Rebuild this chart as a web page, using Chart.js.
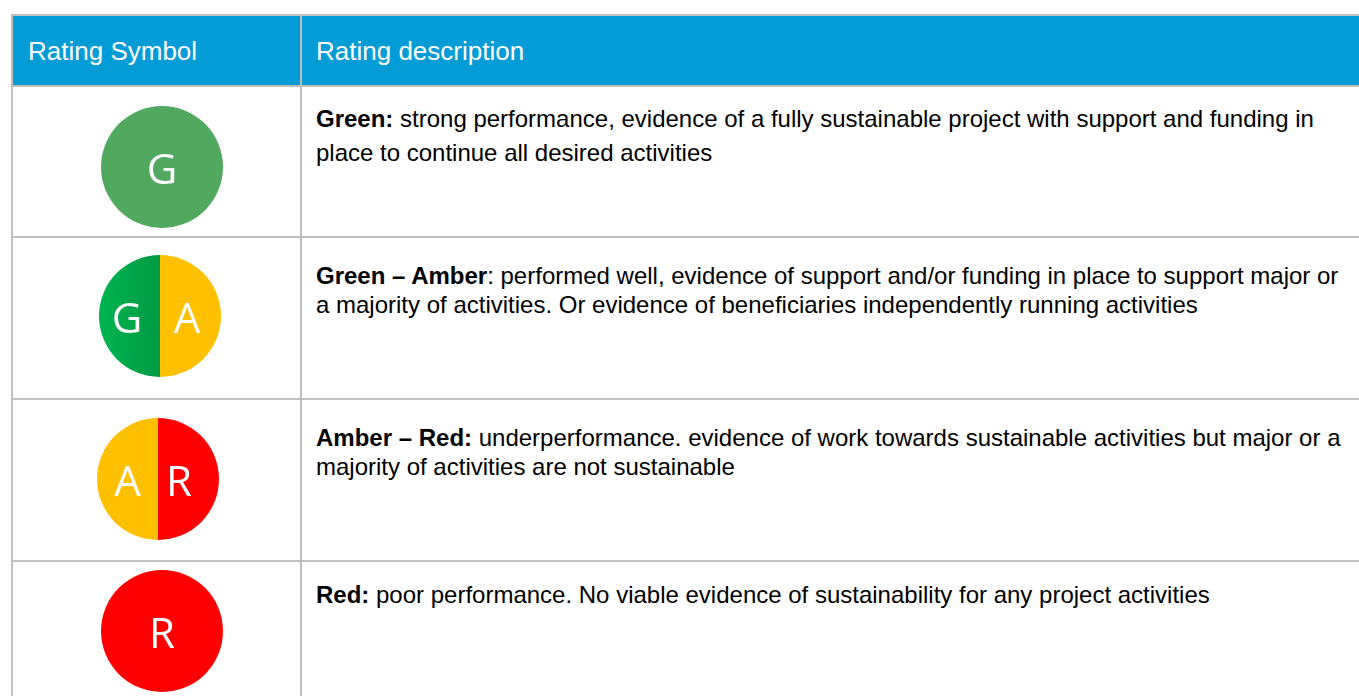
<!DOCTYPE html>
<html>
<head>
<meta charset="utf-8">
<script src="https://cdn.jsdelivr.net/npm/chart.js@4.4.0/dist/chart.umd.min.js"></script>
<style>
  body { margin: 0; background: #fff; width: 1359px; height: 696px; overflow: hidden; position: relative;
         font-family: "Liberation Sans", Arial, sans-serif; }
  .rule { position: absolute; background: #bfbfbf; }
  .head { position: absolute; background: #049cd6; }
  .htxt { position: absolute; color: #fff; font-size: 26px; line-height: 30px; white-space: nowrap; }
  .desc { position: absolute; left: 316px; font-size: 24px; color: #000; white-space: nowrap; }
  .sym { position: absolute; width: 122px; height: 122px; }
</style>
</head>
<body>
<script>
// table content
const headers = ['Rating Symbol', 'Rating description'];
const symbolLetters = [['G'], ['G', 'A'], ['A', 'R'], ['R']];
const sliceValues = [[1], [1, 1], [1, 1], [1]];
const descBold = ['Green:', 'Green \u2013 Amber', 'Amber \u2013 Red:', 'Red:'];
const descLine1 = [
    ' strong performance, evidence of a fully sustainable project with support and funding in',
    ': performed well, evidence of support and/or funding in place to support major or',
    ' underperformance. evidence of work towards sustainable activities but major or a',
    ' poor performance. No viable evidence of sustainability for any project activities'
];
const descLine2 = [
    'place to continue all desired activities',
    'a majority of activities. Or evidence of beneficiaries independently running activities',
    'majority of activities are not sustainable',
    ''
];

// layout + styles
const headerX = [28, 316];
const rowLines = [14, 85, 236, 398, 560];     // horizontal rules (top y)
const colLines = [11, 300];                   // vertical rules (left x)
const symCenters = [[161.5, 166.5], [159.5, 316], [158, 478.5], [162, 631]];
const textTops = [104, 261, 423, 580];
const lineHeights = [34, 29, 29, 29];
const letterDx = [[0], [-2.5, -3.5], [0, -9.5], [0]];
const colors = { G: '#50a95f', A: '#ffc000', R: '#ff0000' };

function el(cls, css, html) {
    var d = document.createElement('div');
    d.className = cls;
    Object.assign(d.style, css);
    if (html !== undefined) d.innerHTML = html;
    document.body.appendChild(d);
    return d;
}

// header band
el('head', { left: '13px', top: '16px', width: '1346px', height: '69px' });
headers.forEach(function(h, i) {
    el('htxt', { left: headerX[i] + 'px', top: '36px' }, h);
});

// grid
rowLines.forEach(function(y) {
    el('rule', { left: '11px', top: y + 'px', width: '1348px', height: '2px' });
});
colLines.forEach(function(x) {
    el('rule', { left: x + 'px', top: '14px', width: '2px', height: '682px' });
});

// descriptions
descBold.forEach(function(b, i) {
    var html = '<b>' + b + '</b>' + descLine1[i];
    if (descLine2[i]) html += '<br>' + descLine2[i];
    el('desc', { top: (textTops[i] - (lineHeights[i] - 29) / 2) + 'px', lineHeight: lineHeights[i] + 'px' }, html);
});

// letters on the symbols
const letterPlugin = {
    id: 'letters',
    afterDatasetsDraw(chart) {
        var opts = chart.options.plugins.letters;
        var meta = chart.getDatasetMeta(0);
        var ctx = chart.ctx;
        ctx.save();
        ctx.fillStyle = '#ffffff';
        ctx.font = '400 42px "Open Sans"';
        ctx.textAlign = 'center';
        ctx.textBaseline = 'alphabetic';
        meta.data.forEach(function(arc, i) {
            var p = opts.items.length > 1 ? arc.tooltipPosition() : { x: arc.x, y: arc.y };
            ctx.fillText(opts.items[i], p.x + opts.dx[i], p.y + 17);
        });
        ctx.restore();
    }
};

function sliceColor(row) {
    return function(c) {
        var letter = symbolLetters[row][c.dataIndex];
        if (letter === 'G' && symbolLetters[row].length > 1) {
            var a = c.chart.chartArea;
            if (!a) return '#00a84c';
            var g = c.chart.ctx.createLinearGradient(a.left, 0, (a.left + a.right) / 2, 0);
            g.addColorStop(0, '#00b450');
            g.addColorStop(1, '#009a46');
            return g;
        }
        return colors[letter];
    };
}

symbolLetters.forEach(function(letters, row) {
    var box = el('sym', { left: (symCenters[row][0] - 61) + 'px', top: (symCenters[row][1] - 61) + 'px' });
    var canvas = document.createElement('canvas');
    canvas.width = 122;
    canvas.height = 122;
    box.appendChild(canvas);
    new Chart(canvas.getContext('2d'), {
        type: 'pie',
        data: {
            labels: letters,
            datasets: [{
                data: sliceValues[row],
                backgroundColor: sliceColor(row),
                borderWidth: 0,
                hoverOffset: 0
            }]
        },
        options: {
            responsive: false,
            animation: false,
            events: [],
            rotation: 180,
            layout: { padding: 0 },
            plugins: {
                legend: { display: false },
                tooltip: { enabled: false },
                letters: { items: letters, dx: letterDx[row] }
            }
        },
        plugins: [letterPlugin]
    });
});
</script>
</body>
</html>
